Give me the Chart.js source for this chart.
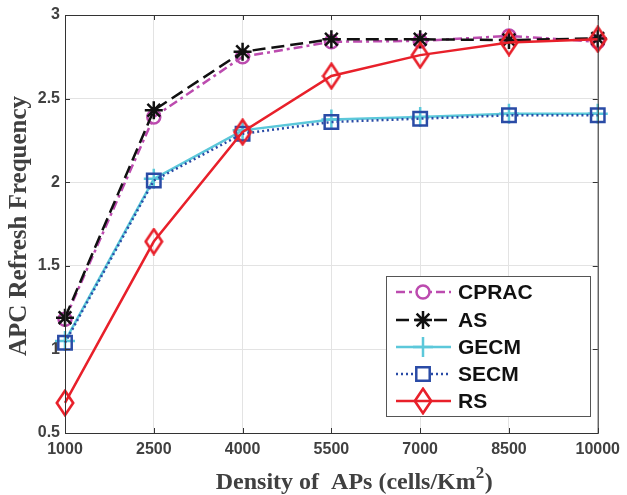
<!DOCTYPE html>
<html><head><meta charset="utf-8">
<script src="https://cdn.jsdelivr.net/npm/chart.js@4/dist/chart.umd.min.js"></script>
<style>html,body{margin:0;padding:0;background:#fff}#wrap{width:627px;height:495px;position:relative}</style>
</head><body><div id="wrap"><canvas id="c" width="627" height="495"></canvas></div>
<script>
const densities = ['1000','2500','4000','5500','7000','8500','10000'];
const cprac = [1.18, 2.39, 2.75, 2.84, 2.845, 2.875, 2.84];
const as    = [1.19, 2.43, 2.78, 2.855, 2.855, 2.85, 2.86];
const gecm  = [1.05, 2.02, 2.31, 2.375, 2.39, 2.41, 2.41];
const secm  = [1.04, 2.01, 2.29, 2.36, 2.38, 2.40, 2.40];
const rs    = [0.68, 1.645, 2.30, 2.635, 2.76, 2.835, 2.855];
const yTicks = [0.5, 1, 1.5, 2, 2.5, 3];
const xTitle = 'Density of  APs (cells/Km';
const xTitleSup = '2';
const xTitleEnd = ')';
const yTitle = 'APC Refresh Frequency';

// MATLAB-like tall diamond marker
function makeDiamond(color){
  const c=document.createElement('canvas'); c.width=20; c.height=28;
  const x=c.getContext('2d');
  x.strokeStyle=color; x.lineWidth=2.6; x.lineJoin='miter';
  x.beginPath(); x.moveTo(10,1.8); x.lineTo(18.2,14); x.lineTo(10,26.2); x.lineTo(1.8,14); x.closePath(); x.stroke();
  return c;
}
const diamond = makeDiamond('#E8202A');

const series = [
  {label:'CPRAC', data:cprac, color:'#BC4BAF', dash:[9,4,3,4], pt:'circle', r:6.5, w:2.5, order:4},
  {label:'AS', data:as, color:'#111111', dash:[13,6], pt:'star', r:9, w:2.5, order:3},
  {label:'GECM', data:gecm, color:'#5CC8DA', dash:[], pt:'cross', r:10, w:2.5, order:2},
  {label:'SECM', data:secm, color:'#2A4BA6', dash:[2,3], pt:'rect', r:9.5, w:2.5, order:1},
  {label:'RS', data:rs, color:'#E8202A', dash:[], pt:diamond, r:10, w:2.5, order:0}
];

const frame = {
  id:'frame',
  afterDraw(chart){
    const {ctx, chartArea:a, scales} = chart;
    ctx.save();
    ctx.strokeStyle = '#333'; ctx.lineWidth = 1;
    ctx.strokeRect(a.left+0.5, a.top+0.5, a.right-a.left, a.bottom-a.top);
    const tl = 5;
    ctx.beginPath();
    yTicks.forEach(v=>{const y=Math.round(scales.y.getPixelForValue(v))+0.5;
      ctx.moveTo(a.left,y);ctx.lineTo(a.left+tl,y);ctx.moveTo(a.right,y);ctx.lineTo(a.right-tl,y);});
    densities.forEach((d,i)=>{const x=Math.round(scales.x.getPixelForValue(i))+0.5;
      ctx.moveTo(x,a.bottom);ctx.lineTo(x,a.bottom-tl);ctx.moveTo(x,a.top);ctx.lineTo(x,a.top+tl);});
    ctx.stroke();
    // axis titles
    ctx.fillStyle='#404040';
    ctx.save();
    ctx.translate(20, (a.top+a.bottom)/2+2); ctx.rotate(-Math.PI/2);
    ctx.font='bold 25px "Liberation Serif", "Times New Roman", serif';
    ctx.textAlign='center'; ctx.textBaseline='middle';
    ctx.fillText(yTitle, 0, 0);
    ctx.restore();
    const fMain='bold 24px "Liberation Serif", "Times New Roman", serif';
    const fSup='bold 17px "Liberation Serif", "Times New Roman", serif';
    ctx.font=fMain; const w1=ctx.measureText(xTitle).width, w3=ctx.measureText(xTitleEnd).width;
    ctx.font=fSup; const w2=ctx.measureText(xTitleSup).width;
    let sx = 354 - (w1+w2+w3)/2;
    ctx.textAlign='left'; ctx.textBaseline='alphabetic';
    ctx.font=fMain; ctx.fillText(xTitle, sx, 489);
    ctx.font=fSup; ctx.fillText(xTitleSup, sx+w1, 478);
    ctx.font=fMain; ctx.fillText(xTitleEnd, sx+w1+w2+0.5, 489);
    // legend
    const lx=386, ly=276, lw=204, lh=140;
    ctx.fillStyle='#fff'; ctx.fillRect(lx,ly,lw,lh);
    ctx.strokeStyle='#555'; ctx.lineWidth=1; ctx.strokeRect(lx+0.5,ly+0.5,lw,lh);
    const rows=[292,320,347,374,401];
    series.forEach((s,i)=>{
      const y=rows[i];
      ctx.save();
      ctx.strokeStyle=s.color; ctx.lineWidth=s.w; ctx.setLineDash(s.dash);
      ctx.beginPath(); ctx.moveTo(396,y); ctx.lineTo(451,y); ctx.stroke();
      ctx.setLineDash([]);
      ctx.fillStyle='#fff';
      Chart.helpers.drawPoint(ctx,{pointStyle:s.pt, radius:s.r, rotation:0, borderWidth:s.w}, 423, y);
      ctx.restore();
      ctx.fillStyle='#111'; ctx.font='bold 21px "Liberation Sans", Arial, sans-serif';
      ctx.textBaseline='middle'; ctx.textAlign='left';
      ctx.fillText(s.label, 458, y+1);
    });
    ctx.restore();
  }
};

new Chart(document.getElementById('c'), {
  type:'line',
  data:{labels:densities, datasets:series.map(s=>({
    label:s.label, data:s.data, borderColor:s.color, borderWidth:s.w, borderDash:s.dash,
    pointStyle:s.pt, pointRadius:s.r, pointBorderWidth:s.w, pointBorderColor:s.color,
    pointBackgroundColor:'rgba(0,0,0,0)', fill:false, tension:0, order:s.order
  }))},
  options:{
    responsive:false, animation:false, devicePixelRatio:1,
    layout:{padding:{left:0,right:24,top:15,bottom:0}},
    plugins:{legend:{display:false}, tooltip:{enabled:false}},
    scales:{
      x:{type:'category', offset:false,
        grid:{color:'#e3e3e3', drawTicks:false}, border:{display:false},
        ticks:{color:'#404040', padding:7, maxRotation:0, font:{family:'"Liberation Sans", Arial, sans-serif', size:16, weight:'bold'}},
        title:{display:false},
        afterFit(s){s.height=62;}
      },
      y:{min:0.5, max:3, afterBuildTicks(s){s.ticks=yTicks.map(v=>({value:v}));},
        grid:{color:'#e3e3e3', drawTicks:false}, border:{display:false},
        ticks:{color:'#404040', padding:5, callback:v=>String(v), font:{family:'"Liberation Sans", Arial, sans-serif', size:16, weight:'bold'}},
        title:{display:false},
        afterFit(s){s.width=65;}
      }
    }
  },
  plugins:[frame]
});
</script></body></html>
